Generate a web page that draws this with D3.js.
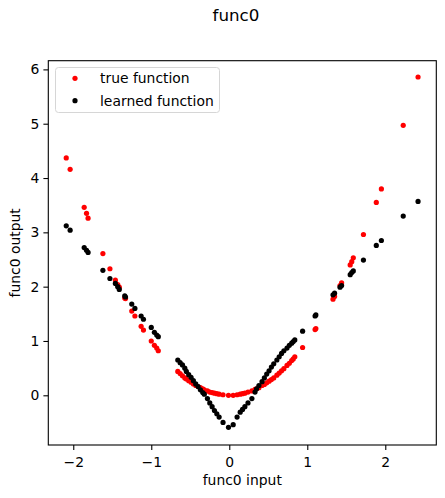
<!DOCTYPE html>
<html><head><meta charset="utf-8">
<script src="https://cdn.jsdelivr.net/npm/d3@7"></script>
<style>body{margin:0;background:#fff}svg{display:block;font-family:"DejaVu Sans",sans-serif}</style>
</head><body><svg id="c" width="445" height="498"></svg>
<script>
const inputs = [-2.09,-2.04,-1.86,-1.83,-1.81,-1.62,-1.53,-1.46,-1.43,-1.41,-1.34,-1.33,-1.25,-1.21,-1.13,-1.10,-1.00,-0.96,-0.93,-0.91,
 -0.66,-0.63,-0.60,-0.57,-0.55,-0.52,-0.49,-0.46,-0.43,-0.40,-0.37,-0.34,-0.32,-0.28,-0.25,-0.22,-0.19,-0.16,-0.13,-0.08,-0.01,0.05,
 0.10,0.14,0.17,0.20,0.24,0.29,0.33,0.35,0.38,0.42,0.45,0.48,0.51,0.54,0.57,0.61,0.64,0.67,0.70,0.74,0.77,0.80,0.82,0.84,0.94,
 1.10,1.11,1.33,1.35,1.42,1.44,1.55,1.57,1.59,1.72,1.885,1.95,2.23,2.42];
const trueOut = [4.37,4.16,3.46,3.35,3.26,2.61,2.33,2.12,2.04,1.99,1.79,1.78,1.55,1.46,1.27,1.20,1.00,0.92,0.87,0.82,
 0.44,0.40,0.36,0.32,0.30,0.27,0.24,0.21,0.18,0.16,0.14,0.12,0.10,0.08,0.06,0.05,0.04,0.03,0.02,0.01,0.00,0.00,
 0.01,0.02,0.03,0.04,0.06,0.08,0.11,0.12,0.14,0.18,0.20,0.23,0.26,0.29,0.32,0.37,0.41,0.45,0.49,0.55,0.59,0.64,0.67,0.71,0.88,
 1.21,1.23,1.77,1.82,2.02,2.07,2.40,2.46,2.53,2.96,3.55,3.80,4.97,5.86];
const learnedOut = [3.12,3.04,2.72,2.67,2.63,2.30,2.15,2.06,2.00,1.95,1.83,1.81,1.68,1.60,1.46,1.40,1.25,1.16,1.11,1.08,
 0.65,0.60,0.56,0.50,0.44,0.38,0.33,0.27,0.21,0.16,0.10,0.05,0.02,-0.06,-0.14,-0.21,-0.28,-0.34,-0.40,-0.50,-0.59,-0.54,
 -0.40,-0.31,-0.26,-0.21,-0.14,-0.06,0.06,0.12,0.18,0.25,0.32,0.39,0.45,0.52,0.58,0.65,0.71,0.77,0.82,0.87,0.92,0.96,0.99,1.02,1.18,
 1.46,1.48,1.85,1.88,1.99,2.02,2.22,2.26,2.29,2.49,2.76,2.85,3.30,3.57];
const xTicks = [-2,-1,0,1,2];
const yTicks = [0,1,2,3,4,5,6];
const seriesNames = ["true function","learned function"];
const seriesColors = ["#ff0000","#000000"];

const svg = d3.select("#c");
const L=48.3, R=436.3, T=60.7, B=445;
const x = d3.scaleLinear().domain([-2.32,2.654]).range([L,R]);
const y = d3.scaleLinear().domain([-0.915,6.16]).range([B,T]);
const fmt = d => String(d).replace("-","\u2212");

const g = svg.append("g");
const series = [trueOut, learnedOut];
series.forEach((vals,si)=>{
  g.selectAll(null).data(inputs).enter().append("circle")
    .attr("cx",d=>x(d)).attr("cy",(d,i)=>y(vals[i])).attr("r",2.6)
    .attr("fill",seriesColors[si]);
});

const xa = svg.append("g").attr("transform",`translate(0,${B})`)
  .call(d3.axisBottom(x).tickValues(xTicks).tickFormat(fmt).tickSize(4.9).tickPadding(4));
const ya = svg.append("g").attr("transform",`translate(${L},0)`)
  .call(d3.axisLeft(y).tickValues(yTicks).tickFormat(fmt).tickSize(4.9).tickPadding(4));
[xa,ya].forEach(a=>{
  a.select(".domain").remove();
  a.selectAll("text").attr("font-size","13.9px").attr("font-family","DejaVu Sans").attr("fill","#000");
  a.selectAll("line").attr("stroke","#000").attr("stroke-width",1.1);
});
xa.selectAll("text").attr("dy","0.95em");
svg.append("rect").attr("x",L).attr("y",T).attr("width",R-L).attr("height",B-T)
  .attr("fill","none").attr("stroke","#000").attr("stroke-width",1.1);

svg.append("text").attr("x",236).attr("y",21).attr("text-anchor","middle")
  .attr("font-size","16.7px").text("func0");
svg.append("text").attr("x",(L+R)/2).attr("y",485).attr("text-anchor","middle")
  .attr("font-size","13.9px").text("func0 input");
svg.append("text").attr("transform",`translate(20,${(T+B)/2}) rotate(-90)`).attr("text-anchor","middle")
  .attr("font-size","13.9px").text("func0 output");

const lg = svg.append("g");
lg.append("rect").attr("x",55.5).attr("y",67.5).attr("width",164).attr("height",45).attr("rx",3)
  .attr("fill","#fff").attr("fill-opacity",0.8).attr("stroke","#d6d6d6").attr("stroke-width",1);
seriesNames.forEach((n,i)=>{
  const yy = 78.3 + i*22.4;
  lg.append("circle").attr("cx",75).attr("cy",yy).attr("r",2.6).attr("fill",seriesColors[i]);
  lg.append("text").attr("x",100).attr("y",yy).attr("dy","0.35em").attr("font-size","13.9px").text(n);
});
</script></body></html>
